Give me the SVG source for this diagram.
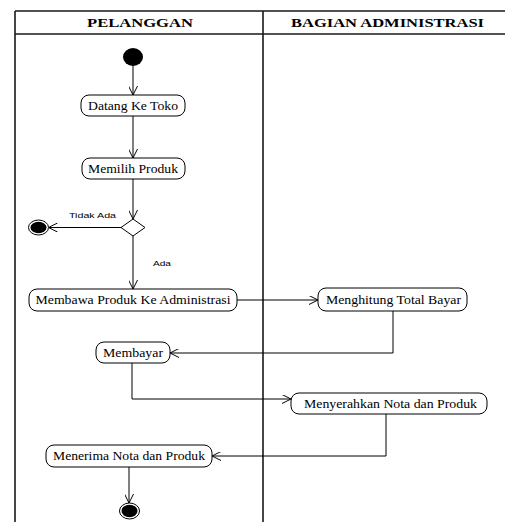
<svg xmlns="http://www.w3.org/2000/svg" width="505" height="522" viewBox="0 0 505 522">
<style>
.frame{stroke:#1a1a1a;stroke-width:1.6;fill:none}
.box{fill:#fff;stroke:#000;stroke-width:1}
.t{font-family:"Liberation Serif","Times New Roman",serif;font-size:12px;fill:#000;text-anchor:middle}
.hdr{font-family:"Liberation Serif","Times New Roman",serif;font-size:11.5px;font-weight:bold;fill:#000;text-anchor:middle}
.lbl{font-family:"Liberation Sans",Arial,sans-serif;font-size:7.5px;fill:#000}
#connectors path{fill:none;stroke:#000;stroke-width:1;marker-end:url(#arr)}
</style>
<defs>
<marker id="arr" viewBox="0 0 10 10" refX="10" refY="5" markerWidth="9" markerHeight="9" markerUnits="userSpaceOnUse" orient="auto">
<path d="M0,0 L10,5 L0,10" fill="none" stroke="#000" stroke-width="1.1"/>
</marker>
</defs>
<rect width="505" height="522" fill="#fff"/>
<g id="swimlanes">
<path class="frame" d="M15,11 H505 M15,34 H505 M15,11 V522 M263,11 V522"/>
<text class="hdr" x="140" y="27" textLength="106" lengthAdjust="spacingAndGlyphs">PELANGGAN</text>
<text class="hdr" x="387.5" y="27" textLength="193" lengthAdjust="spacingAndGlyphs">BAGIAN ADMINISTRASI</text>
</g>
<g id="connectors">
<path d="M133,66 V95"/>
<path d="M133,116 V158"/>
<path d="M133,179 V219"/>
<path d="M121,227.5 H48.5"/>
<path d="M133,236 V289"/>
<path d="M237,300 H318"/>
<path d="M393,311 V353 H170"/>
<path d="M132,363 V399 H291"/>
<path d="M386,414 V456 H212"/>
<path d="M129,467 V503"/>
<text class="lbl" x="69" y="218" textLength="47" lengthAdjust="spacingAndGlyphs">Tidak Ada</text>
<text class="lbl" x="153" y="266" textLength="18" lengthAdjust="spacingAndGlyphs">Ada</text>
</g>
<g id="start">
<ellipse cx="133" cy="57" rx="10" ry="9" fill="#000"/>
</g>
<g id="datang">
<rect class="box" x="81" y="95" width="104" height="21" rx="8"/>
<text class="t" x="133" y="109.5" textLength="90" lengthAdjust="spacingAndGlyphs">Datang Ke Toko</text>
</g>
<g id="memilih">
<rect class="box" x="82" y="158" width="103" height="21" rx="8"/>
<text class="t" x="133" y="172.5" textLength="90" lengthAdjust="spacingAndGlyphs">Memilih Produk</text>
</g>
<g id="decision">
<polygon points="133,219 145,227.5 133,236 121,227.5" fill="#fff" stroke="#000" stroke-width="1"/>
</g>
<g id="end1">
<ellipse cx="38.5" cy="227.5" rx="10" ry="7.5" fill="#fff" stroke="#000" stroke-width="1"/>
<ellipse cx="38.5" cy="227.5" rx="8" ry="5.7" fill="#000"/>
</g>
<g id="membawa">
<rect class="box" x="29" y="289" width="208" height="22" rx="8"/>
<text class="t" x="133" y="304" textLength="195" lengthAdjust="spacingAndGlyphs">Membawa Produk Ke Administrasi</text>
</g>
<g id="menghitung">
<rect class="box" x="318" y="288" width="149" height="23" rx="8"/>
<text class="t" x="393.5" y="303.5" textLength="135" lengthAdjust="spacingAndGlyphs">Menghitung Total Bayar</text>
</g>
<g id="membayar">
<rect class="box" x="96" y="342" width="74" height="21" rx="8"/>
<text class="t" x="133" y="356.5" textLength="60" lengthAdjust="spacingAndGlyphs">Membayar</text>
</g>
<g id="menyerahkan">
<rect class="box" x="291" y="393" width="196" height="21" rx="8"/>
<text class="t" x="390.5" y="407.5" textLength="173" lengthAdjust="spacingAndGlyphs">Menyerahkan Nota dan Produk</text>
</g>
<g id="menerima">
<rect class="box" x="46" y="445" width="166" height="22" rx="8"/>
<text class="t" x="129" y="460" textLength="152" lengthAdjust="spacingAndGlyphs">Menerima Nota dan Produk</text>
</g>
<g id="end2">
<ellipse cx="129.5" cy="511" rx="10" ry="8" fill="#fff" stroke="#000" stroke-width="1"/>
<ellipse cx="129.5" cy="511" rx="8" ry="6.2" fill="#000"/>
</g>
</svg>
